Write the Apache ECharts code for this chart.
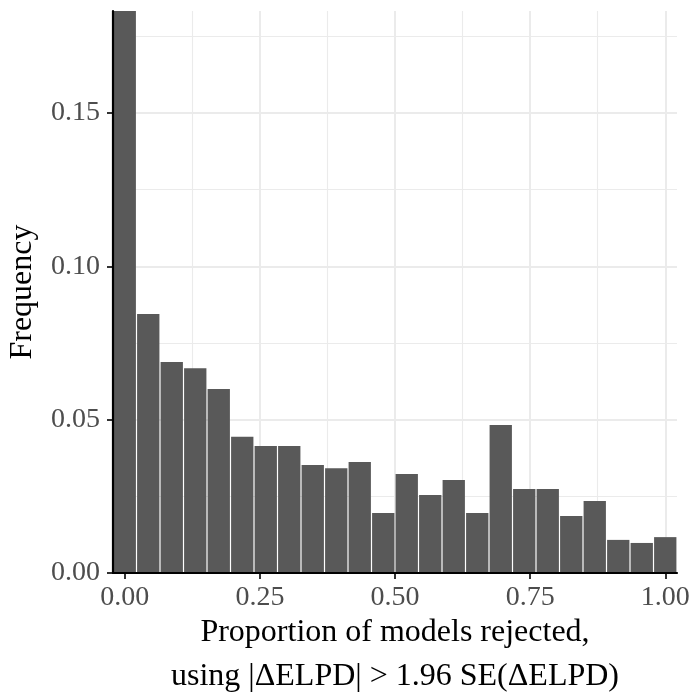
<!DOCTYPE html>
<html><head><meta charset="utf-8">
<script src="https://cdn.jsdelivr.net/npm/echarts@6/dist/echarts.min.js"></script>
<style>html,body{margin:0;padding:0;background:#fff}#c{width:694px;height:696px}</style>
</head><body><div id="c"></div>
<script>
// Bin centres of the histogram (24 bins)
const binCenters = ['0.000','0.043','0.087','0.130','0.174','0.217','0.261','0.304','0.348','0.391','0.435','0.478',
                    '0.522','0.565','0.609','0.652','0.696','0.739','0.783','0.826','0.870','0.913','0.957','1.000'];
// Frequency per bin
const frequency = [0.1833, 0.0845, 0.0688, 0.0668, 0.0600, 0.0444, 0.0414, 0.0414, 0.0352, 0.0342, 0.0362, 0.0196,
                   0.0323, 0.0254, 0.0303, 0.0196, 0.0483, 0.0274, 0.0274, 0.0186, 0.0235, 0.0108, 0.0098, 0.0117];
// Tick settings
const xTickRange = [0, 1], xTickStep = 0.25;
const yTickRange = [0, 0.2], yTickStep = 0.05;
const xTitle = 'Proportion of models rejected,\nusing |ΔELPD| > 1.96 SE(ΔELPD)';
const yTitle = 'Frequency';

const FONT = 'Liberation Serif';
const W = 694, H = 696;
const pL = 113, pR = 677, pT = 11, pB = 573;
const band = (pR - pL) / frequency.length;
const ymax = Math.max(...frequency);
const pxPerUnit = (pB - pT) / ymax;
const topC = pB - yTickRange[1] * pxPerUnit;

const gridColor = '#ebebeb';
const tickStyle = {color: '#333333', width: 2};
const labelStyle = {fontFamily: FONT, fontSize: 28, color: '#4d4d4d'};

const chart = echarts.init(document.getElementById('c'), null, {renderer: 'canvas'});
chart.setOption({
  animation: false,
  backgroundColor: '#ffffff',
  grid: [
    {left: pL, right: W - pR, top: pT, bottom: H - pB, outerBoundsMode: 'none', containLabel: false},
    {left: pL + band / 2, right: W - pR + band / 2, top: pT, bottom: H - pB, outerBoundsMode: 'none', containLabel: false},
    {left: pL, right: W - pR, top: topC, bottom: H - pB, outerBoundsMode: 'none', containLabel: false}
  ],
  xAxis: [
    {gridIndex: 0, type: 'category', data: binCenters, boundaryGap: true, z: 5,
     axisLine: {show: true, lineStyle: {color: '#000', width: 2.2}},
     axisTick: {show: false}, axisLabel: {show: false}, splitLine: {show: false},
     name: xTitle, nameLocation: 'middle', nameGap: 38,
     nameTextStyle: {fontFamily: FONT, fontSize: 32, lineHeight: 44, color: '#000'}},
    {gridIndex: 1, type: 'value', min: xTickRange[0], max: xTickRange[1], interval: xTickStep,
     axisLine: {show: false},
     axisTick: {show: true, length: 6, lineStyle: tickStyle},
     axisLabel: Object.assign({margin: 11, formatter: v => v.toFixed(2)}, labelStyle),
     splitLine: {show: true, lineStyle: {color: gridColor, width: 2}},
     minorTick: {show: false, splitNumber: 2},
     minorSplitLine: {show: true, lineStyle: {color: gridColor, width: 1.1}}},
    {gridIndex: 2, type: 'value', show: false, min: 0, max: 1}
  ],
  yAxis: [
    {gridIndex: 0, type: 'value', min: 0, max: ymax, z: 5,
     axisLine: {show: true, lineStyle: {color: '#000', width: 2.2}},
     axisTick: {show: false}, axisLabel: {show: false}, splitLine: {show: false},
     name: yTitle, nameLocation: 'middle', nameGap: 74,
     nameTextStyle: {fontFamily: FONT, fontSize: 32, color: '#000'}},
    {gridIndex: 1, type: 'value', show: false, min: 0, max: 1},
    {gridIndex: 2, type: 'value', min: yTickRange[0], max: yTickRange[1], interval: yTickStep,
     axisLine: {show: false},
     axisTick: {show: true, length: 6, lineStyle: tickStyle},
     axisLabel: Object.assign({margin: 13, showMaxLabel: false, formatter: v => v.toFixed(2)}, labelStyle),
     splitLine: {show: true, lineStyle: {color: gridColor, width: 2}},
     minorTick: {show: false, splitNumber: 2},
     minorSplitLine: {show: true, lineStyle: {color: gridColor, width: 1.1}}}
  ],
  series: [
    {type: 'bar', xAxisIndex: 0, yAxisIndex: 0, data: frequency, barCategoryGap: '5%',
     itemStyle: {color: '#595959'}, silent: true}
  ]
});
</script></body></html>
